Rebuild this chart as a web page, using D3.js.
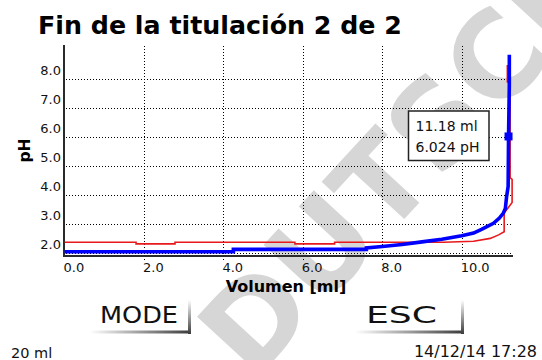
<!DOCTYPE html>
<html>
<head>
<meta charset="utf-8">
<script src="https://cdn.jsdelivr.net/npm/d3@7"></script>
<style>
  body { margin: 0; background: #fff; }
  svg { display: block; }
</style>
</head>
<body>
<svg id="chart" width="542" height="360"></svg>
<script>
// Axis ticks
const volTicks = [0, 2, 4, 6, 8, 10];
const phTicks = [2, 3, 4, 5, 6, 7, 8];

// Titration 2 (current, blue): volume [ml] and pH
const blueVol = [0, 4.25, 4.25, 7.6, 7.6, 8.0, 8.5, 9.0, 9.5, 10.0, 10.3, 10.5, 10.8, 10.95, 11.05, 11.1, 11.13, 11.17, 11.18, 11.2, 11.2];
const bluePH  = [2.06, 2.06, 2.14, 2.14, 2.19, 2.24, 2.31, 2.40, 2.49, 2.61, 2.70, 2.83, 3.04, 3.22, 3.39, 3.55, 3.94, 4.30, 6.024, 7.80, 8.83];

// Titration 1 (previous, red)
const redVol = [0, 1.8, 1.8, 2.78, 2.78, 5.8, 5.8, 6.8, 6.8, 9.55, 10.3, 10.72, 10.93, 11.07, 11.07, 11.27, 11.27, 11.22, 11.22, 11.15, 11.15];
const redPH  = [2.385, 2.385, 2.33, 2.33, 2.385, 2.385, 2.33, 2.33, 2.385, 2.385, 2.42, 2.52, 2.64, 2.75, 3.39, 3.75, 4.55, 4.60, 7.86, 7.90, 8.48];

// Endpoint readout
const endVol = 11.18;
const endPH = 6.024;

const titleText = "Fin de la titulación 2 de 2";
const xLabel = "Volumen [ml]";
const yLabel = "pH";
const buttons = ["MODE", "ESC"];
const footerLeft = "20 ml";
const footerRight = "14/12/14 17:28";
const watermark = "DUTSCH";

const svg = d3.select("#chart");
const font = "'DejaVu Sans', sans-serif";

const x = d3.scaleLinear().domain([0, 11.3]).range([64.6, 513.3]);
const y = d3.scaleLinear().domain([1.9, 9.1]).range([256.4, 47]);

// gradients for the soft key shadows
const defs = svg.append("defs");
const gH = defs.append("linearGradient").attr("id", "shadeH").attr("x1", 0).attr("x2", 1).attr("y1", 0).attr("y2", 0);
gH.append("stop").attr("offset", 0).attr("stop-color", "#ffffff");
gH.append("stop").attr("offset", 1).attr("stop-color", "#3a3a3a");
const gV = defs.append("linearGradient").attr("id", "shadeV").attr("x1", 0).attr("x2", 0).attr("y1", 0).attr("y2", 1);
gV.append("stop").attr("offset", 0).attr("stop-color", "#ffffff");
gV.append("stop").attr("offset", 1).attr("stop-color", "#3a3a3a");

// background watermark
svg.append("text")
  .attr("transform", "translate(253,383) rotate(-47.3)")
  .attr("font-family", font).attr("font-weight", "bold")
  .attr("font-size", 118).attr("fill", "#d6d6d6")
  .text(watermark);

// title
svg.append("text")
  .attr("x", 38).attr("y", 33.5)
  .attr("font-family", font).attr("font-weight", "bold").attr("font-size", 25.3)
  .attr("fill", "#000")
  .text(titleText);

// grid
const grid = svg.append("g").attr("stroke", "#000").attr("stroke-width", 1).attr("stroke-dasharray", "1,2");
grid.selectAll("line.h").data(phTicks).join("line")
  .attr("x1", 66).attr("x2", 512)
  .attr("y1", d => Math.round(y(d)) + 0.5).attr("y2", d => Math.round(y(d)) + 0.5);
grid.selectAll("line.v").data(volTicks.filter(d => d > 0)).join("line")
  .attr("y1", 46).attr("y2", 262)
  .attr("x1", d => Math.round(x(d)) + 0.5).attr("x2", d => Math.round(x(d)) + 0.5);

// axis lines
svg.append("rect").attr("x", 63).attr("y", 45).attr("width", 2).attr("height", 212).attr("fill", "#2a2a2a");
svg.append("rect").attr("x", 63).attr("y", 255).attr("width", 450).attr("height", 2).attr("fill", "#2a2a2a");

// tick labels via d3 axes
const xAxis = svg.append("g").attr("transform", "translate(0,272)")
  .call(d3.axisBottom(x).tickValues(volTicks).tickFormat(d3.format(".1f")).tickSize(0));
xAxis.select(".domain").remove();
xAxis.selectAll("text")
  .attr("y", 0).attr("dy", 0).attr("x", -1.5)
  .attr("text-anchor", "start")
  .attr("font-family", font).attr("font-size", 13).attr("fill", "#111");

const yAxis = svg.append("g").attr("transform", "translate(61,0)")
  .call(d3.axisLeft(y).tickValues(phTicks).tickFormat(d3.format(".1f")).tickSize(0));
yAxis.select(".domain").remove();
yAxis.selectAll("text")
  .attr("x", 0).attr("y", -4.5).attr("dy", 0)
  .attr("text-anchor", "end")
  .attr("font-family", font).attr("font-size", 13).attr("fill", "#111");

// axis titles
svg.append("text")
  .attr("x", 286).attr("y", 291.5).attr("text-anchor", "middle")
  .attr("font-family", font).attr("font-weight", "bold").attr("font-size", 16)
  .text(xLabel);
svg.append("text")
  .attr("transform", "translate(30,150.5) rotate(-90)").attr("text-anchor", "middle")
  .attr("font-family", font).attr("font-weight", "bold").attr("font-size", 15.5)
  .text(yLabel);

// curves
const line = d3.line().x(d => x(d[0])).y(d => y(d[1]));
svg.append("path")
  .datum(redVol.map((v, i) => [v, redPH[i]]))
  .attr("d", line).attr("fill", "none")
  .attr("stroke", "#e8191c").attr("stroke-width", 1.6);
svg.append("path")
  .datum(blueVol.map((v, i) => [v, bluePH[i]]))
  .attr("d", line).attr("fill", "none")
  .attr("stroke", "#0000ff").attr("stroke-width", 3.6)
  .attr("stroke-linejoin", "miter");

// endpoint marker
svg.append("rect")
  .attr("x", x(endVol) - 4).attr("y", y(endPH) - 4)
  .attr("width", 8).attr("height", 8)
  .attr("fill", "#0000ff");

// endpoint readout box
const box = svg.append("g");
box.append("rect")
  .attr("x", 408.5).attr("y", 111).attr("width", 80.5).attr("height", 49.5)
  .attr("fill", "#fff").attr("stroke", "#222").attr("stroke-width", 1.5);
box.append("text").attr("x", 415.5).attr("y", 130.5)
  .attr("font-family", font).attr("font-size", 14).attr("fill", "#111")
  .text(d3.format(".2f")(endVol) + " ml");
box.append("text").attr("x", 415.5).attr("y", 152)
  .attr("font-family", font).attr("font-size", 14).attr("fill", "#111")
  .text(d3.format(".3f")(endPH) + " pH");

// soft keys
const keyLayout = [
  { left: 90, right: 191, textX: 100, textW: 78 },
  { left: 355, right: 464, textX: 366, textW: 71 }
];
buttons.forEach((label, i) => {
  const k = keyLayout[i];
  const g = svg.append("g");
  g.append("rect").attr("x", k.left).attr("y", 330.5).attr("width", k.right - k.left).attr("height", 3)
    .attr("fill", "url(#shadeH)");
  g.append("rect").attr("x", k.right - 3).attr("y", 300).attr("width", 3).attr("height", 34)
    .attr("fill", "url(#shadeV)");
  g.append("text").attr("x", k.textX).attr("y", 323)
    .attr("font-family", font).attr("font-size", 22.5).attr("fill", "#111")
    .attr("textLength", k.textW).attr("lengthAdjust", "spacingAndGlyphs")
    .text(label);
});

// status line
svg.append("text").attr("x", 11).attr("y", 358)
  .attr("font-family", font).attr("font-size", 14.5).attr("fill", "#111")
  .text(footerLeft);
svg.append("text").attr("x", 537).attr("y", 357).attr("text-anchor", "end")
  .attr("font-family", font).attr("font-size", 16).attr("fill", "#111")
  .text(footerRight);
</script>
</body>
</html>
